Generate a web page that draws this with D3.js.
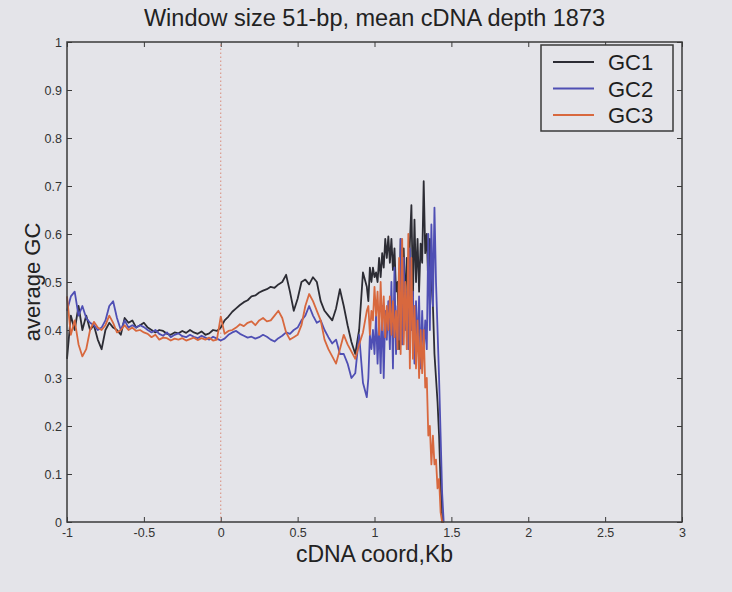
<!DOCTYPE html>
<html>
<head>
<meta charset="utf-8">
<style>
    body { margin: 0; background: #e4e4e9; }
    svg { display: block; font-family: "Liberation Sans", Arial, sans-serif; }
    .axis .domain { display: none; }
    .axis .tick line { stroke: #3a3a3a; stroke-width: 1px; }
    .axis .tick text { font-size: 12.5px; fill: #333; }
</style>
</head>
<body>
<svg width="732" height="592"></svg>
<script src="https://d3js.org/d3.v7.min.js"></script>
<script>

// x positions along the cDNA (Kb) shared by the three series
let coordKb = [
    -1.000, -0.975, -0.950, -0.925, -0.900, -0.875, -0.850, -0.825, -0.800, -0.775,
    -0.750, -0.725, -0.700, -0.675, -0.650, -0.625, -0.600, -0.575, -0.550, -0.525,
    -0.500, -0.475, -0.450, -0.425, -0.400, -0.375, -0.350, -0.325, -0.300, -0.275,
    -0.250, -0.225, -0.200, -0.175, -0.150, -0.125, -0.100, -0.075, -0.050, -0.025,
    0.000, 0.025, 0.050, 0.075, 0.100, 0.125, 0.150, 0.175, 0.200, 0.225,
    0.250, 0.275, 0.300, 0.325, 0.350, 0.375, 0.400, 0.425, 0.450, 0.475,
    0.500, 0.525, 0.550, 0.575, 0.600, 0.625, 0.650, 0.675, 0.700, 0.725,
    0.750, 0.775, 0.800, 0.825, 0.850, 0.875, 0.900, 0.925, 0.950,
    0.96, 0.97, 0.98, 0.99, 1.00, 1.01, 1.02, 1.03, 1.04, 1.05,
    1.06, 1.07, 1.08, 1.09, 1.10, 1.11, 1.12, 1.13, 1.14, 1.15,
    1.16, 1.17, 1.18, 1.19, 1.20, 1.21, 1.22, 1.23, 1.24, 1.25,
    1.26, 1.27, 1.28, 1.29, 1.30, 1.31, 1.32, 1.33, 1.34, 1.35,
    1.36, 1.37, 1.38, 1.39, 1.40, 1.41, 1.42, 1.43, 1.44, 1.45
];

let gc1 = [
    0.34, 0.43, 0.40, 0.45, 0.40, 0.43, 0.40, 0.41, 0.38, 0.36,
    0.40, 0.415, 0.405, 0.40, 0.39, 0.425, 0.415, 0.42, 0.405, 0.41,
    0.415, 0.405, 0.40, 0.395, 0.40, 0.398, 0.392, 0.39, 0.395, 0.393,
    0.398, 0.394, 0.40, 0.395, 0.392, 0.397, 0.39, 0.393, 0.40, 0.398,
    0.405, 0.42, 0.428, 0.438, 0.445, 0.452, 0.458, 0.462, 0.47, 0.472,
    0.478, 0.482, 0.485, 0.49, 0.488, 0.495, 0.50, 0.515, 0.48, 0.44,
    0.465, 0.50, 0.505, 0.495, 0.51, 0.50, 0.46, 0.44, 0.43, 0.42,
    0.445, 0.485, 0.45, 0.41, 0.375, 0.35, 0.40, 0.52, 0.49,
    0.46, 0.53, 0.50, 0.53, 0.51, 0.52, 0.50, 0.55, 0.51, 0.56,
    0.53, 0.59, 0.55, 0.595, 0.54, 0.59, 0.525, 0.57, 0.48, 0.50,
    0.36, 0.59, 0.40, 0.57, 0.45, 0.55, 0.47, 0.58, 0.66, 0.47,
    0.63, 0.50, 0.59, 0.48, 0.58, 0.54, 0.71, 0.56, 0.60, 0.49,
    0.59, 0.50, 0.45, 0.35, 0.30, 0.25, 0.18, 0.08, 0.00, 0.00
];

let gc2 = [
    0.44, 0.47, 0.48, 0.43, 0.45, 0.425, 0.415, 0.41, 0.40, 0.405,
    0.42, 0.45, 0.46, 0.425, 0.40, 0.42, 0.405, 0.41, 0.405, 0.41,
    0.406, 0.40, 0.395, 0.40, 0.392, 0.388, 0.395, 0.385, 0.39, 0.393,
    0.387, 0.385, 0.39, 0.386, 0.383, 0.388, 0.384, 0.38, 0.386, 0.382,
    0.378, 0.382, 0.39, 0.395, 0.398, 0.392, 0.388, 0.384, 0.386, 0.382,
    0.385, 0.39, 0.386, 0.38, 0.376, 0.383, 0.388, 0.395, 0.392, 0.40,
    0.405, 0.42, 0.43, 0.45, 0.43, 0.415, 0.42, 0.40, 0.385, 0.372,
    0.38, 0.35, 0.35, 0.33, 0.30, 0.31, 0.39, 0.29, 0.26,
    0.30, 0.39, 0.36, 0.40, 0.35, 0.43, 0.33, 0.42, 0.31, 0.45,
    0.30, 0.44, 0.38, 0.46, 0.36, 0.50, 0.32, 0.53, 0.35, 0.45,
    0.38, 0.59, 0.37, 0.55, 0.40, 0.48, 0.36, 0.57, 0.40, 0.48,
    0.33, 0.46, 0.36, 0.47, 0.32, 0.44, 0.35, 0.42, 0.36, 0.60,
    0.40, 0.62, 0.45, 0.655, 0.50, 0.40, 0.30, 0.18, 0.06, 0.00
];

let gc3 = [
    0.47, 0.39, 0.42, 0.37, 0.345, 0.36, 0.40, 0.417, 0.405, 0.40,
    0.41, 0.43, 0.415, 0.395, 0.40, 0.41, 0.40, 0.405, 0.398, 0.40,
    0.395, 0.392, 0.385, 0.39, 0.38, 0.384, 0.383, 0.378, 0.382, 0.38,
    0.383, 0.378, 0.381, 0.384, 0.379, 0.383, 0.38, 0.384, 0.378, 0.38,
    0.428, 0.392, 0.398, 0.40, 0.405, 0.412, 0.408, 0.415, 0.418, 0.41,
    0.42, 0.425, 0.418, 0.42, 0.43, 0.44, 0.425, 0.395, 0.38, 0.385,
    0.39, 0.41, 0.45, 0.475, 0.46, 0.44, 0.42, 0.38, 0.36, 0.345,
    0.33, 0.36, 0.39, 0.37, 0.355, 0.34, 0.37, 0.395, 0.44,
    0.45, 0.39, 0.44, 0.42, 0.49, 0.43, 0.48, 0.39, 0.50, 0.40,
    0.47, 0.385, 0.45, 0.40, 0.47, 0.39, 0.46, 0.385, 0.44, 0.36,
    0.55, 0.35, 0.59, 0.37, 0.50, 0.36, 0.60, 0.32, 0.55, 0.34,
    0.45, 0.32, 0.42, 0.30, 0.40, 0.31, 0.40, 0.28, 0.30, 0.18,
    0.20, 0.12, 0.18, 0.12, 0.13, 0.07, 0.09, 0.02, 0.00, 0.00
];

let seriesNames = ["GC1", "GC2", "GC3"];
let seriesColors = ["#2c2c34", "#4f4fb4", "#d8683e"];

let xTicks = [-1, -0.5, 0, 0.5, 1, 1.5, 2, 2.5, 3];
let xTickLabels = ["-1", "-0.5", "0", "0.5", "1", "1.5", "2", "2.5", "3"];
let yTicks = [0, 0.1, 0.2, 0.3, 0.4, 0.5, 0.6, 0.7, 0.8, 0.9, 1];
let yTickLabels = ["0", "0.1", "0.2", "0.3", "0.4", "0.5", "0.6", "0.7", "0.8", "0.9", "1"];

let svg = d3.select("svg");

let margin = { top: 42, right: 50, bottom: 70, left: 67 };
let width = 732, height = 592;

let x = d3.scaleLinear()
    .domain([-1, 3])
    .range([margin.left, width - margin.right])

let y = d3.scaleLinear()
    .domain([0, 1])
    .range([height - margin.bottom, margin.top])

// ticks on all four sides, pointing inward like matlab
svg.append("g")
    .attr("class", "x axis")
    .attr("transform", `translate(0,${y(0)})`)
    .call(d3.axisBottom(x).tickValues(xTicks).tickSize(-5).tickPadding(6)
        .tickFormat((d, i) => xTickLabels[i]))

svg.append("g")
    .attr("class", "x axis top")
    .attr("transform", `translate(0,${y(1)})`)
    .call(d3.axisTop(x).tickValues(xTicks).tickSize(-5).tickFormat(""))

svg.append("g")
    .attr("class", "y axis")
    .attr("transform", `translate(${x(-1)},0)`)
    .call(d3.axisLeft(y).tickValues(yTicks).tickSize(-5).tickPadding(5)
        .tickFormat((d, i) => yTickLabels[i]))

svg.append("g")
    .attr("class", "y axis right")
    .attr("transform", `translate(${x(3)},0)`)
    .call(d3.axisRight(y).tickValues(yTicks).tickSize(-5).tickFormat(""))

// dotted marker at cDNA start
svg.append("line")
    .attr("x1", x(0)).attr("x2", x(0))
    .attr("y1", y(0)).attr("y2", y(1))
    .style("stroke", "#d98a78")
    .style("stroke-width", 1)
    .style("stroke-dasharray", "1.5,2.5")

let line = d3.line()
    .x((d, i) => x(coordKb[i]))
    .y(d => y(d))

let allSeries = [gc1, gc2, gc3];

svg.append("g")
    .selectAll("path")
    .data(allSeries)
    .join("path")
    .attr("d", d => line(d))
    .style("fill", "none")
    .style("stroke", (d, i) => seriesColors[i])
    .style("stroke-width", 1.8)
    .style("stroke-linejoin", "round")

// axes box
svg.append("rect")
    .attr("x", x(-1))
    .attr("y", y(1))
    .attr("width", x(3) - x(-1))
    .attr("height", y(0) - y(1))
    .style("fill", "none")
    .style("stroke", "#3a3a3a")
    .style("stroke-width", 1.5)

// legend
let legend = svg.append("g").attr("transform", "translate(541,45)");

legend.append("rect")
    .attr("width", 132)
    .attr("height", 86)
    .style("fill", "#e4e4e9")
    .style("stroke", "#3a3a3a")
    .style("stroke-width", 1.5)

let items = legend.selectAll(".item")
    .data(seriesNames)
    .join("g")
    .attr("class", "item")
    .attr("transform", (d, i) => `translate(0,${17 + i * 26.5})`)

items.append("line")
    .attr("x1", 12).attr("x2", 53)
    .style("stroke", (d, i) => seriesColors[i])
    .style("stroke-width", 1.8)

items.append("text")
    .attr("x", 67)
    .attr("y", 8)
    .text(d => d)
    .style("font-size", "22px")
    .style("fill", "#1e1e1e")

// title and axis labels
svg.append("text")
    .attr("x", (x(-1) + x(3)) / 2)
    .attr("y", 26)
    .attr("text-anchor", "middle")
    .text("Window size 51-bp, mean cDNA depth 1873")
    .style("font-size", "23.5px")
    .style("fill", "#222")

svg.append("text")
    .attr("transform", `translate(40,${(y(0) + y(1)) / 2}) rotate(-90)`)
    .attr("text-anchor", "middle")
    .text("average GC")
    .style("font-size", "22px")
    .style("fill", "#222")

svg.append("text")
    .attr("x", (x(-1) + x(3)) / 2)
    .attr("y", 562)
    .attr("text-anchor", "middle")
    .text("cDNA coord,Kb")
    .style("font-size", "23px")
    .style("fill", "#222")

</script>
</body>
</html>
